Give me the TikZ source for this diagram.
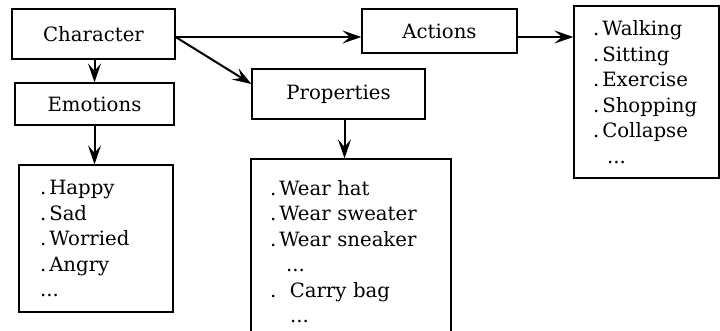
\documentclass[tikz,border=0pt]{standalone}
\usepackage{fontspec}
\setmainfont{DejaVu Serif}
\usetikzlibrary{arrows.meta}
\newcommand{\itm}{.\kern3pt}
\begin{document}
\begin{tikzpicture}[x=1pt,y=-1pt,
    box/.style={draw, line width=1.2pt, inner sep=0pt, font=\fontsize{19.7}{25.5}\selectfont},
    listbox/.style={box, align=left},
    arr/.style={-{Stealth[length=19pt,width=13pt,inset=7.5pt]}, line width=2pt}]
  \useasboundingbox (0,0) rectangle (720,331);
  \clip (0,0) rectangle (720,331);
  \node[box, minimum width=163pt, minimum height=50pt] (char) at (93.5,34) {Character};
  \node[box, minimum width=159pt, minimum height=42pt] (emo) at (94.5,104) {Emotions};
  \node[box, minimum width=173pt, minimum height=50pt] (prop) at (338.5,94) {Properties};
  \node[box, minimum width=155pt, minimum height=44pt] (act) at (439.5,31) {Actions};
  \node[listbox, text width=112pt, inner xsep=21pt, minimum height=147pt] (emolist) at (96,238.5)
    {\itm Happy\\\itm Sad\\\itm Worried\\\itm Angry\\...};
  \node[listbox, text width=162pt, inner xsep=19pt, minimum height=185.5pt] (proplist) at (351,251.75)
    {\itm Wear hat\\\itm Wear sweater\\\itm Wear sneaker\\\hspace*{16pt}...\\.\hspace{13.5pt}Carry bag\\\hspace*{20pt}...};
  \node[listbox, text width=107pt, inner xsep=19pt, minimum height=172pt] (actlist) at (646.5,92)
    {\itm Walking\\\itm Sitting\\\itm Exercise\\\itm Shopping\\\itm Collapse\\\hspace*{14pt}...};
  \coordinate (cout) at ([yshift=-3pt]char.east);
  \coordinate (pout) at ([xshift=6pt]prop.south);
  \coordinate (aout) at ([yshift=-6pt]act.east);
  \draw[arr] (cout) -- (cout -| act.west);
  \draw[arr] (cout) -- ([yshift=10pt]prop.west);
  \draw[arr] (emo.north |- char.south) -- (emo.north);
  \draw[arr] (emo.south) -- (emo.south |- emolist.north);
  \draw[arr] (pout) -- (pout |- proplist.north);
  \draw[arr] (aout) -- (aout -| actlist.west);
\end{tikzpicture}
\end{document}
